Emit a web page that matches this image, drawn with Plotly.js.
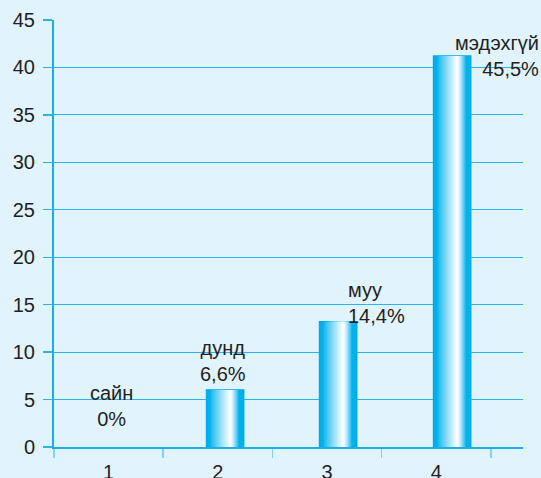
<!DOCTYPE html>
<html>
<head>
<meta charset="utf-8">
<script src="https://cdn.plot.ly/plotly-3.0.1.min.js"></script>
<style>html,body{margin:0;padding:0;background:#e1f3fc;}#chart{width:541px;height:478px;}</style>
</head>
<body>
<div id="chart"></div>
<script>
// ---- data ----
var categories = ['1', '2', '3', '4'];
var values = [0, 6, 13.2, 41.2];
var labelNames = ['сайн', 'дунд', 'муу', 'мэдэхгүй'];
var labelPcts = ['0%', '6,6%', '14,4%', '45,5%'];
var yTickVals = [0, 5, 10, 15, 20, 25, 30, 35, 40, 45];

// ---- styling ----
var cyan = [0, 178, 236];
var white = [246, 252, 255];
var barW = 0.34;
var baseOffsets = [-0.14, -0.103, -0.068, -0.024];
var N = 12;

function mix(a, b, s) {
  return 'rgb(' + a.map(function (v, i) { return Math.round(v + (b[i] - v) * s); }).join(',') + ')';
}

var traces = [];
// outer solid bar
traces.push({
  type: 'bar', x: categories, y: values,
  width: barW, offset: baseOffsets,
  marker: { color: mix(cyan, white, 0),
            line: { color: 'rgb(0,170,230)', width: values.map(function (v) { return v > 0 ? 1.5 : 0; }) } },
  hoverinfo: 'skip'
});
// gradient layers (light stripe right of centre)
for (var k = 1; k <= N; k++) {
  var f = (k - 1) / N;
  var l = barW * (0.11 + (0.64 - 0.11) * f);
  var r = barW * (0.865 - (0.865 - 0.655) * f);
  var s = Math.pow(k / N, 0.85);
  traces.push({
    type: 'bar', x: categories, y: values,
    width: r - l,
    offset: baseOffsets.map(function (o) { return o + l; }),
    marker: { color: mix(cyan, white, s), line: { width: 0 } },
    hoverinfo: 'skip'
  });
}

var annShift = [
  { xanchor: 'center', align: 'center', xshift: 3, yshift: 41 },
  { xanchor: 'center', align: 'center', xshift: 5.5, yshift: 29 },
  { xanchor: 'left', align: 'left', xshift: 19.5, yshift: 19 },
  { xanchor: 'right', align: 'right', xshift: 105, yshift: 0 }
];
var annotations = categories.map(function (c, i) {
  return {
    x: i, y: values[i], xref: 'x', yref: 'y',
    text: labelNames[i] + '<br>' + labelPcts[i],
    showarrow: false, yanchor: 'middle',
    xanchor: annShift[i].xanchor, align: annShift[i].align,
    xshift: annShift[i].xshift, yshift: annShift[i].yshift,
    font: { family: 'Liberation Sans, Arial, sans-serif', size: 20, color: '#231f20' }
  };
});

var layout = {
  width: 541, height: 478,
  margin: { l: 54, r: 18, t: 20, b: 31, pad: 0 },
  paper_bgcolor: '#e1f3fc', plot_bgcolor: '#e1f3fc',
  barmode: 'overlay', showlegend: false,
  font: { family: 'Liberation Sans, Arial, sans-serif', size: 20, color: '#231f20' },
  xaxis: {
    type: 'category', range: [-0.5, 3.795],
    tickson: 'boundaries', ticks: 'outside', ticklen: 9, tickwidth: 1.5, tickcolor: '#7fd2f2',
    showline: true, linecolor: '#1aaee6', linewidth: 2,
    showgrid: false, zeroline: false, ticklabelstandoff: 6,
    tickfont: { size: 20, color: '#231f20' }, fixedrange: true
  },
  yaxis: {
    range: [0, 45], tickvals: yTickVals, ticktext: yTickVals.map(String),
    ticks: 'outside', ticklen: 9, tickwidth: 1.3, tickcolor: '#29b5e8',
    showline: true, linecolor: '#1aaee6', linewidth: 2,
    showgrid: true, gridcolor: '#29b5e8', gridwidth: 1.2, zeroline: false,
    ticklabelstandoff: 4,
    tickfont: { size: 20, color: '#231f20' }, fixedrange: true
  },
  annotations: annotations
};

Plotly.newPlot('chart', traces, layout, { displayModeBar: false, staticPlot: true });
</script>
</body>
</html>
